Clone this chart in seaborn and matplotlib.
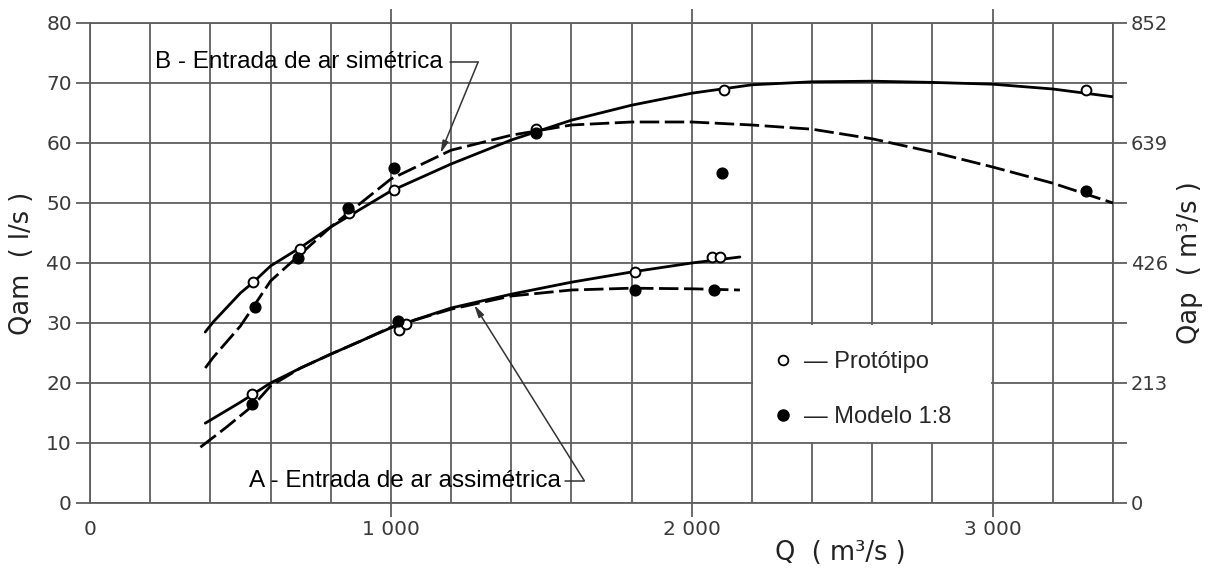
import numpy as np
import pandas as pd
import matplotlib
matplotlib.use("Agg")
import matplotlib.pyplot as plt
from matplotlib.lines import Line2D
from matplotlib.patches import Rectangle
import seaborn as sns

# ---------------- data ----------------
# Curve B (entrada de ar simétrica) - protótipo (solid)
b_proto_curve_x = [383, 410, 500, 543, 600, 700, 800, 900, 1000, 1200, 1400, 1600, 1800,
                   2000, 2200, 2400, 2600, 2800, 3000, 3200, 3400]
b_proto_curve_y = [28.5, 30.2, 35.0, 36.8, 39.5, 42.6, 46.0, 49.0, 52.0, 56.5, 60.5, 63.8, 66.3,
                   68.3, 69.7, 70.2, 70.3, 70.1, 69.8, 69.0, 67.7]
# Curve B - modelo (dashed)
b_model_curve_x = [383, 410, 500, 543, 600, 700, 800, 900, 1000, 1200, 1400, 1600, 1800,
                   2000, 2200, 2400, 2600, 2800, 3000, 3200, 3400]
b_model_curve_y = [22.5, 24.3, 29.5, 32.7, 37.0, 41.5, 46.0, 50.0, 54.0, 58.8, 61.3, 63.0, 63.5,
                   63.5, 63.0, 62.3, 60.7, 58.5, 56.0, 53.3, 50.0]
# Curve A (entrada de ar assimétrica) - protótipo (solid)
a_proto_curve_x = [383, 500, 600, 700, 800, 900, 1000, 1200, 1400, 1600, 1800, 2000, 2160]
a_proto_curve_y = [13.3, 16.8, 20.0, 22.5, 24.8, 27.0, 29.2, 32.5, 34.8, 36.8, 38.5, 40.0, 41.0]
# Curve A - modelo (dashed)
a_model_curve_x = [367, 450, 543, 600, 700, 800, 900, 1000, 1200, 1400, 1600, 1800, 2000, 2160]
a_model_curve_y = [9.3, 12.5, 16.3, 19.5, 22.5, 24.8, 27.0, 29.3, 32.3, 34.5, 35.5, 35.8, 35.7, 35.5]

# measured points
b_proto_pts_x = [543, 697, 860, 1010, 1483, 2107, 3310]
b_proto_pts_y = [36.8, 42.3, 48.3, 52.2, 62.4, 68.8, 68.8]
b_model_pts_x = [547, 690, 857, 1010, 1483, 2100, 3310]
b_model_pts_y = [32.7, 40.8, 49.2, 55.8, 61.6, 55.0, 52.0]
a_proto_pts_x = [540, 1027, 1050, 1813, 2067, 2093]
a_proto_pts_y = [18.2, 28.8, 29.8, 38.5, 41.0, 41.0]
a_model_pts_x = [540, 1023, 1810, 2073]
a_model_pts_y = [16.5, 30.3, 35.5, 35.5]

x_tick_values = [0, 1000, 2000, 3000]
x_tick_labels = ["0", "1 000", "2 000", "3 000"]
y_tick_values = [0, 10, 20, 30, 40, 50, 60, 70, 80]
y_tick_labels = ["0", "10", "20", "30", "40", "50", "60", "70", "80"]
right_tick_values = [0, 213, 426, 639, 852]
right_tick_labels = ["0", "213", "426", "639", "852"]

label_b = "B - Entrada de ar simétrica"
label_a = "A - Entrada de ar assimétrica"
legend_labels = ["— Protótipo", "— Modelo 1:8"]

# ---------------- styling ----------------
sns.set_theme(style="white")
plt.rcParams["font.family"] = ["Liberation Sans", "DejaVu Sans"]

GRID = "#5f5f5f"
TICKC = "#3a3a3a"

fig = plt.figure(figsize=(12.08, 5.72), dpi=100)
ax = fig.add_axes([90 / 1208, 1 - 503 / 572, (1113 - 90) / 1208, (503 - 23) / 572])

ax.set_xlim(0, 3400)
ax.set_ylim(0, 80)

# grid
ax.set_xticks(np.arange(0, 3401, 200), minor=True)
ax.set_yticks(y_tick_values)
ax.set_xticks(x_tick_values)
ax.grid(True, which="both", color=GRID, lw=1.3, zorder=0)
ax.set_axisbelow(True)
for s in ax.spines.values():
    s.set_color(GRID)
    s.set_linewidth(1.3)

ax.set_xticklabels(x_tick_labels, fontfamily="DejaVu Sans", fontsize=14.5, color=TICKC)
ax.set_yticklabels(y_tick_labels, fontfamily="DejaVu Sans", fontsize=14.5, color=TICKC)
ax.tick_params(axis="x", which="major", direction="out", length=10, width=1.3, color=GRID,
               top=True, bottom=True, pad=2)
ax.tick_params(axis="x", which="minor", length=0)
ax.tick_params(axis="y", which="major", direction="out", length=10, width=1.3, color=GRID,
               left=True, pad=3)
ax.xaxis.get_major_ticks()[0].tick1line.set_visible(False)
ax.xaxis.get_major_ticks()[0].tick2line.set_visible(False)

# white box behind legend
ax.add_patch(Rectangle((2205, 10.25), 790, 19.5, facecolor="white", edgecolor="none", zorder=1))

# curves
lw = 2.0
sns.lineplot(x=b_proto_curve_x, y=b_proto_curve_y, ax=ax, color="black", lw=lw,
             sort=False, estimator=None, zorder=3)
sns.lineplot(x=b_model_curve_x, y=b_model_curve_y, ax=ax, color="black", lw=lw,
             sort=False, estimator=None, zorder=3, dashes=False).lines[-1].set_dashes((7, 2))
sns.lineplot(x=a_proto_curve_x, y=a_proto_curve_y, ax=ax, color="black", lw=lw,
             sort=False, estimator=None, zorder=3)
sns.lineplot(x=a_model_curve_x, y=a_model_curve_y, ax=ax, color="black", lw=lw,
             sort=False, estimator=None, zorder=3, dashes=False).lines[-1].set_dashes((7, 2))

# points
sns.scatterplot(x=b_proto_pts_x + a_proto_pts_x, y=b_proto_pts_y + a_proto_pts_y, ax=ax,
                marker="o", s=50, facecolor="white", edgecolor="black", linewidth=1.4, zorder=5)
sns.scatterplot(x=b_model_pts_x + a_model_pts_x, y=b_model_pts_y + a_model_pts_y, ax=ax,
                marker="o", s=60, color="black", edgecolor="black", linewidth=1, zorder=5)

# annotations
ax.text(217, 73.5, label_b, fontsize=17.5, va="center", ha="left", color="black", zorder=6)
ax.plot([1195, 1290], [73.5, 73.5], color="#333", lw=1.1, zorder=6)
ax.annotate("", xy=(1165, 58.3), xytext=(1290, 73.5),
            arrowprops=dict(arrowstyle="-|>,head_length=0.6,head_width=0.15", color="#333",
                            lw=1.1, shrinkA=0, shrinkB=0), zorder=6)

ax.text(527, 3.7, label_a, fontsize=17.5, va="center", ha="left", color="black", zorder=6)
ax.plot([1580, 1643], [3.7, 3.7], color="#333", lw=1.1, zorder=6)
ax.annotate("", xy=(1277, 33.0), xytext=(1643, 3.7),
            arrowprops=dict(arrowstyle="-|>,head_length=0.6,head_width=0.15", color="#333",
                            lw=1.1, shrinkA=0, shrinkB=0), zorder=6)

# legend
handles = [
    Line2D([], [], marker="o", ls="", ms=7, mfc="white", mec="black", mew=1.3),
    Line2D([], [], marker="o", ls="", ms=8, mfc="black", mec="black"),
]
leg = ax.legend(handles, legend_labels, loc="center left", bbox_to_anchor=(2225, 18.9),
                bbox_transform=ax.transData, frameon=False, fontsize=17, handlelength=1.0,
                handletextpad=0.4, labelspacing=1.4, borderpad=0)
leg.set_zorder(7)

# axis labels
ax.set_ylabel("Qam  ( l/s )", fontfamily="DejaVu Sans", fontsize=18.5, color="#222", labelpad=8)
fig.text(840 / 1208, 1 - 553 / 572, "Q  ( m³/s )", fontfamily="DejaVu Sans", fontsize=18.5,
         color="#222", ha="center", va="center")

# right axis
ax2 = ax.twinx()
ax2.set_ylim(0, 852)
ax2.set_yticks(right_tick_values)
ax2.set_yticklabels(right_tick_labels, fontfamily="DejaVu Sans", fontsize=14, color=TICKC)
ax2.set_yticks([106.5, 319.5, 532.5, 745.5], minor=True)
ax2.tick_params(axis="y", which="both", direction="out", length=10, width=1.3, color=GRID,
                right=True, pad=3)
ax2.grid(False)
for s in ax2.spines.values():
    s.set_visible(False)
ax2.set_ylabel("Qap  ( m³/s )", fontfamily="DejaVu Sans", fontsize=18.5, color="#222",
               rotation=90, labelpad=6)

fig.savefig("out.png", dpi=100, facecolor="white")
